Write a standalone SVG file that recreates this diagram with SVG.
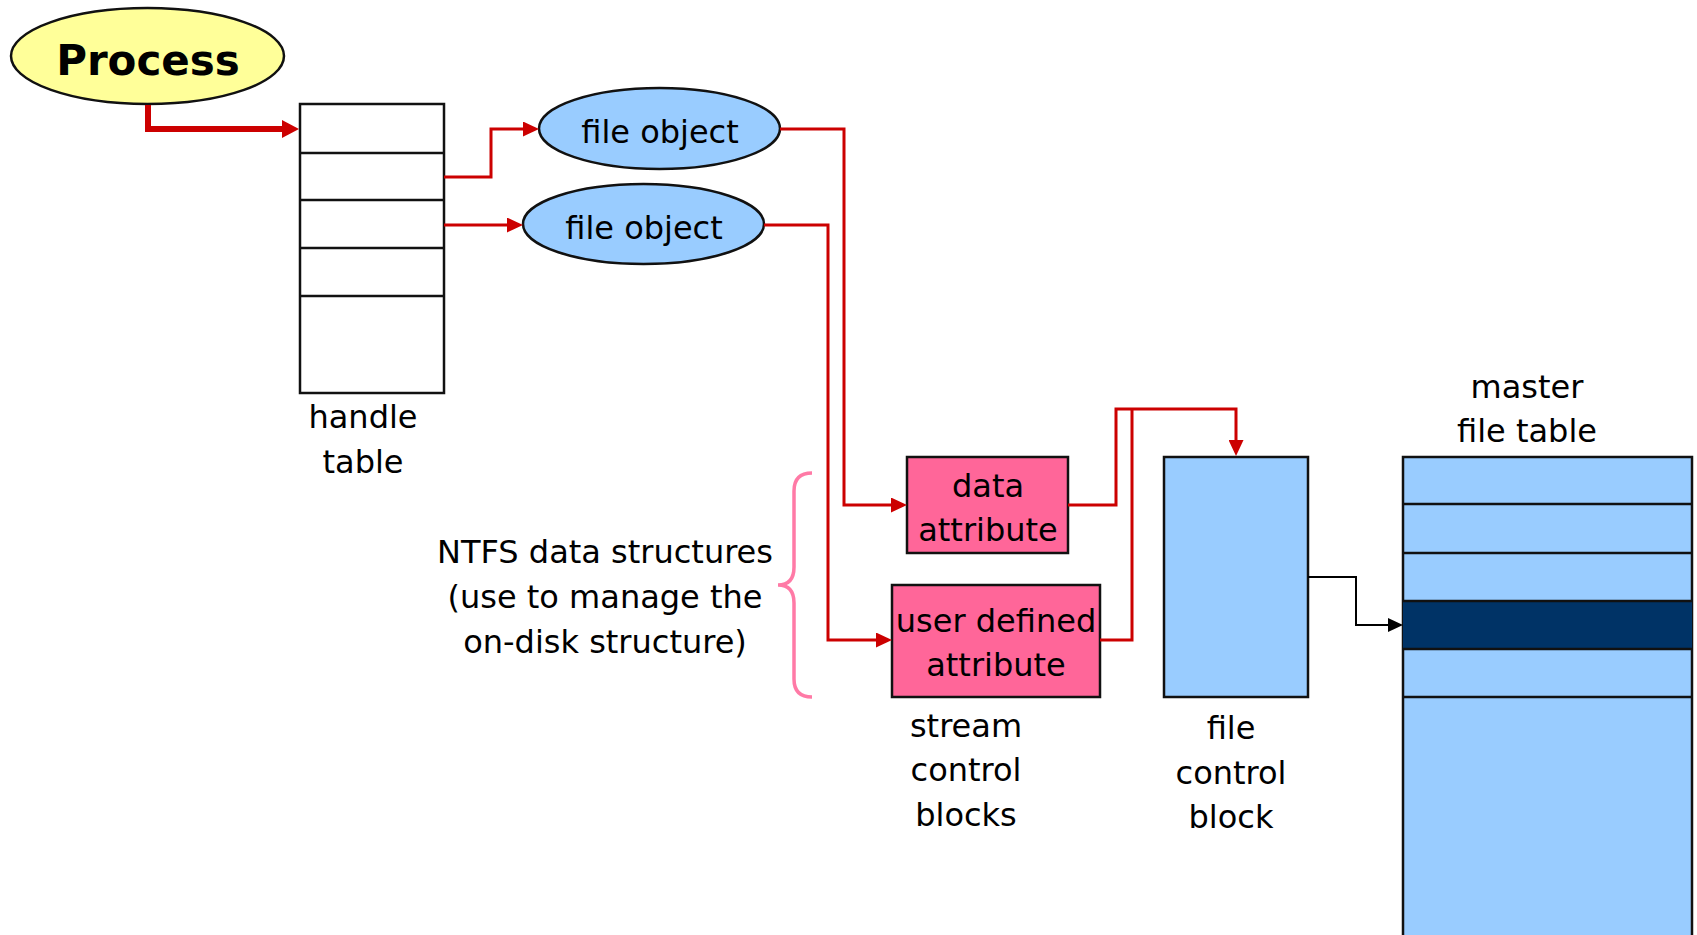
<svg xmlns="http://www.w3.org/2000/svg" width="1697" height="935" viewBox="0 0 1697 935">
<defs>
<style>
text{font-family:"DejaVu Sans",Verdana,sans-serif;font-size:32px;fill:#000;text-anchor:middle}
.box{stroke:#111;stroke-width:2.5}
.red{fill:none;stroke:#CC0000;stroke-width:3}
.blk{fill:none;stroke:#000;stroke-width:2}
</style>
<marker id="ar" markerUnits="userSpaceOnUse" markerWidth="16" markerHeight="15" refX="0" refY="7.5" orient="auto"><path d="M0,0 L16,7.5 L0,15 z" fill="#CC0000"/></marker>
<marker id="arb" markerUnits="userSpaceOnUse" markerWidth="17" markerHeight="18" refX="0" refY="9" orient="auto"><path d="M0,0 L17,9 L0,18 z" fill="#CC0000"/></marker>
<marker id="ak" markerUnits="userSpaceOnUse" markerWidth="15" markerHeight="14" refX="0" refY="7" orient="auto"><path d="M0,0 L15,7 L0,14 z" fill="#000"/></marker>
</defs>
<rect width="1697" height="935" fill="#fff"/>

<g id="process">
<ellipse cx="147.5" cy="56" rx="136.5" ry="48" fill="#FFFF99" class="box"/>
<text x="148" y="75" style="font-weight:bold;font-size:42px">Process</text>
</g>

<g id="handle-table">
<rect x="300" y="104" width="144" height="289" fill="#fff" class="box"/>
<path d="M300,153 H444 M300,200 H444 M300,248 H444 M300,296 H444" class="box" fill="none"/>
<text x="363" y="428">handle</text>
<text x="363" y="473">table</text>
</g>

<g id="file-object-1">
<ellipse cx="659.5" cy="128.5" rx="120.5" ry="40.5" fill="#99CCFF" class="box"/>
<text x="660" y="143">file object</text>
</g>

<g id="file-object-2">
<ellipse cx="643.5" cy="224" rx="120.5" ry="40" fill="#99CCFF" class="box"/>
<text x="644" y="239">file object</text>
</g>

<g id="data-attribute">
<rect x="907" y="457" width="161" height="96" fill="#FF6699" class="box"/>
<text x="988" y="497">data</text>
<text x="988" y="541">attribute</text>
</g>

<g id="user-defined-attribute">
<rect x="892" y="585" width="208" height="112" fill="#FF6699" class="box"/>
<text x="996" y="632">user defined</text>
<text x="996" y="676">attribute</text>
</g>

<g id="stream-label">
<text x="966" y="737">stream</text>
<text x="966" y="781">control</text>
<text x="966" y="826">blocks</text>
</g>

<g id="file-control-block">
<rect x="1164" y="457" width="144" height="240" fill="#99CCFF" class="box"/>
<text x="1231" y="739">file</text>
<text x="1231" y="784">control</text>
<text x="1231" y="828">block</text>
</g>

<g id="master-file-table">
<rect x="1403" y="457" width="289" height="490" fill="#99CCFF" class="box"/>
<rect x="1403" y="601" width="289" height="48" fill="#003366"/>
<path d="M1403,504 H1692 M1403,553 H1692 M1403,601 H1692 M1403,649 H1692 M1403,697 H1692" class="box" fill="none"/>
<text x="1527" y="398">master</text>
<text x="1527" y="442">file table</text>
</g>

<g id="ntfs-note">
<path d="M812,473 Q794,473 794,491 L794,567 Q794,585 778,585 Q794,585 794,603 L794,679 Q794,697 812,697" fill="none" stroke="#FF7AA6" stroke-width="3.5"/>
<text x="605" y="563">NTFS data structures</text>
<text x="605" y="608">(use to manage the</text>
<text x="605" y="653">on-disk structure)</text>
</g>

<g id="connectors">
<path d="M148,105 V129 H282" fill="none" stroke="#CC0000" stroke-width="6" marker-end="url(#arb)"/>
<path d="M444,177 H491 V129 H523" class="red" marker-end="url(#ar)"/>
<path d="M444,225 H507" class="red" marker-end="url(#ar)"/>
<path d="M780,129 H844 V505 H891" class="red" marker-end="url(#ar)"/>
<path d="M764,225 H828 V640 H876" class="red" marker-end="url(#ar)"/>
<path d="M1068,505 H1116 V409 H1236 V440" class="red" marker-end="url(#ar)"/>
<path d="M1100,640 H1132 V409" class="red"/>
<path d="M1308,577 H1356 V625 H1388" class="blk" marker-end="url(#ak)"/>
</g>
</svg>
